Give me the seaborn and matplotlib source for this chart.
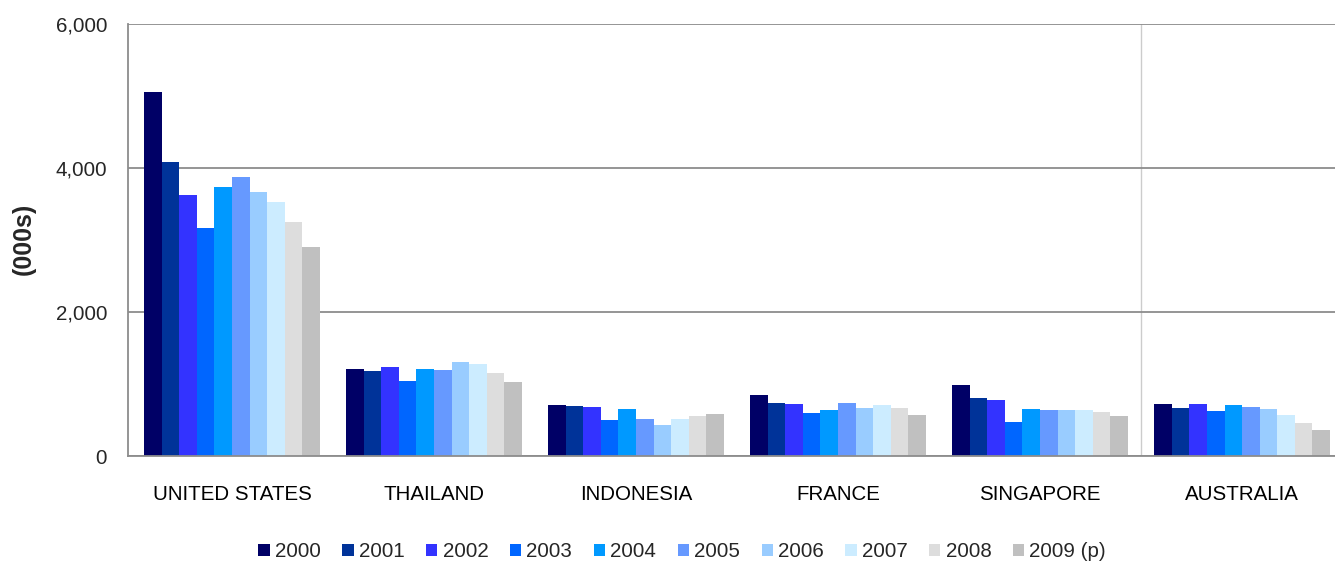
import pandas as pd
import numpy as np
import matplotlib.pyplot as plt
import seaborn as sns
from matplotlib.ticker import FuncFormatter, FixedLocator

# ---- data (thousands of visitors) ----
countries = ['UNITED STATES', 'THAILAND', 'INDONESIA', 'FRANCE', 'SINGAPORE', 'AUSTRALIA']
years = ['2000', '2001', '2002', '2003', '2004', '2005', '2006', '2007', '2008', '2009 (p)']

united_states = [5060, 4085, 3625, 3165, 3745, 3880, 3665, 3530, 3245, 2900]
thailand = [1205, 1175, 1235, 1040, 1210, 1195, 1310, 1280, 1150, 1025]
indonesia = [710, 695, 675, 500, 655, 510, 430, 515, 560, 580]
france = [850, 730, 720, 600, 645, 735, 670, 710, 665, 570]
singapore = [980, 800, 775, 475, 650, 635, 640, 635, 610, 555]
australia = [720, 670, 720, 625, 710, 685, 650, 575, 460, 355]

colors = ['#000066', '#003399', '#3333FF', '#0066FF', '#0099FF',
          '#6699FF', '#99CCFF', '#CCECFF', '#DDDDDD', '#C0C0C0']

series = [united_states, thailand, indonesia, france, singapore, australia]
rows = []
for c, vals in zip(countries, series):
    for y, v in zip(years, vals):
        rows.append({'country': c, 'year': y, 'value': v})
df = pd.DataFrame(rows)

sns.set_style('white')
plt.rcParams['font.family'] = ['Liberation Sans', 'DejaVu Sans']

fig = plt.figure(figsize=(13.35, 5.63), dpi=100)
ax = fig.add_axes([0.0959, 0.19, 0.9041, 0.767])

sns.barplot(data=df, x='country', y='value', hue='year', palette=colors,
            width=0.87, gap=0, linewidth=0, saturation=1, ax=ax, legend=True)

ax.set_ylim(0, 6000)
# category slots are ~202 px wide, first slot starts a few px right of the axis
ax.set_xlim(-0.515, 5.46)
ax.set_yticks([0, 2000, 4000, 6000])
ax.yaxis.set_major_formatter(FuncFormatter(lambda v, p: f'{int(v):,}'))
ax.yaxis.grid(True, color='#8c8c8c', linewidth=1.3)
ax.set_axisbelow(True)
ax.axvline(4.5, color='#cccccc', linewidth=1, zorder=0)

for s in ['top', 'right']:
    ax.spines[s].set_visible(False)
for s in ['left', 'bottom']:
    ax.spines[s].set_color('#8c8c8c')
    ax.spines[s].set_linewidth(1.3)

ax.tick_params(axis='x', which='major', length=0, pad=21, labelsize=14.8, colors='black')
ax.xaxis.set_minor_locator(FixedLocator(np.arange(0.5, 5.0, 1.0)))
ax.tick_params(axis='x', which='minor', length=5, width=1.3, color='#8c8c8c', direction='out')
ax.tick_params(axis='y', length=7, width=1.3, color='#8c8c8c', direction='out',
               labelsize=14.8, pad=8)
ax.set_xlabel('')
ax.set_ylabel('')
fig.text(0.018, 0.575, '(000s)', rotation=90, fontsize=18, fontweight='bold',
         ha='center', va='center')

ax.legend_.remove()
handles, labels = ax.get_legend_handles_labels()
fig.legend(handles, labels, loc='center', bbox_to_anchor=(0.511, 0.02), ncol=10,
           frameon=False, fontsize=14.8, handlelength=0.55, handleheight=0.55,
           handletextpad=0.25, columnspacing=1.05)

plt.savefig('out.png', dpi=100)
